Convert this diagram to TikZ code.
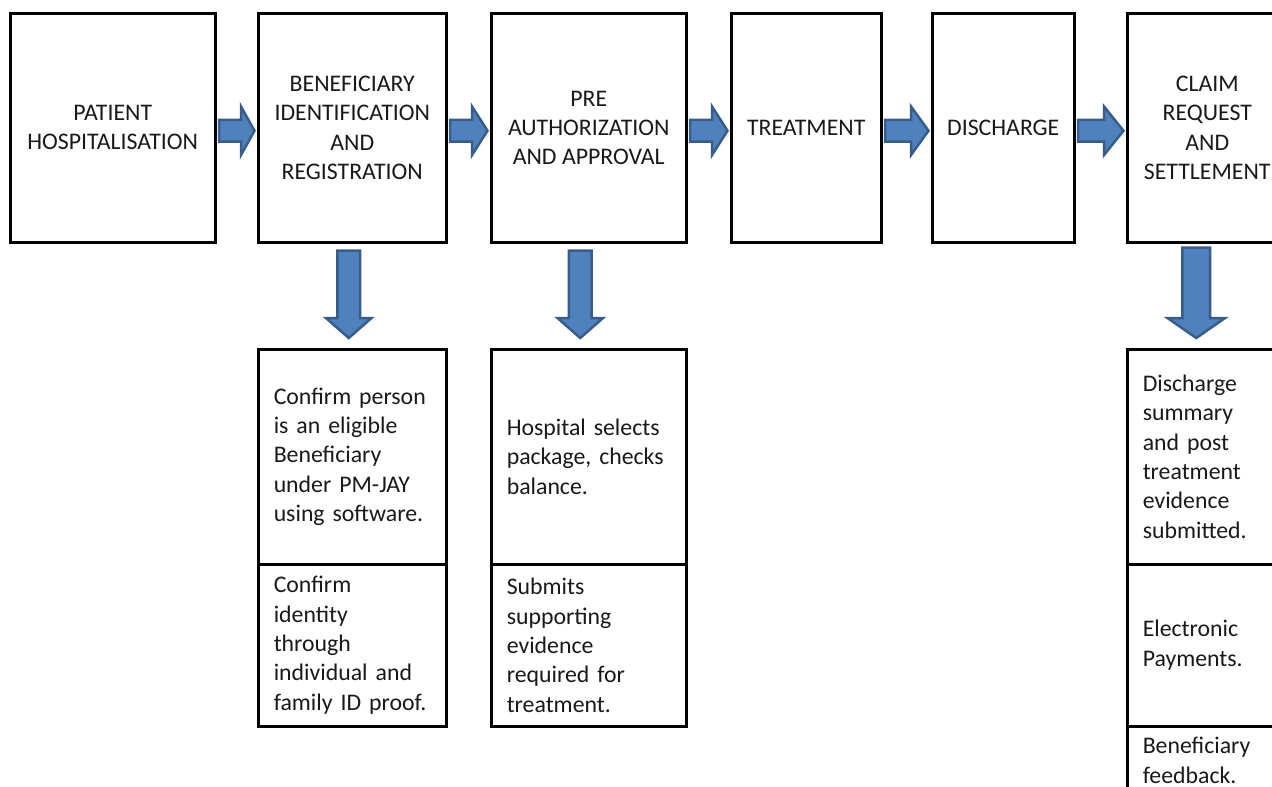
\documentclass[tikz,border=0pt]{standalone}
\usepackage{fontspec}
\setmainfont{Carlito}
\usetikzlibrary{calc}
\definecolor{arrowfill}{HTML}{4F81BD}
\definecolor{arrowedge}{HTML}{385D8A}
% horizontal block arrow: from node, to node, head length
\newcommand\harrow[3]{%
  \draw[barrow] ([shift={(2.5,-7.8)}]#1.east) -- ([shift={(-#3,-7.8)}]#2.west)
    -- ([shift={(-#3,-21.3)}]#2.west) -- ([shift={(-2.5,3)}]#2.west)
    -- ([shift={(-#3,27.3)}]#2.west) -- ([shift={(-#3,13.8)}]#2.west)
    -- ([shift={(2.5,13.8)}]#1.east) -- cycle;}
% vertical block arrow: upper node, lower node, x offset, shaft half, head half, top gap
\newcommand\varrow[6]{%
  \draw[barrow] ([shift={(#3-#4,#6)}]#1.south) -- ([shift={(#3-#4,-30)}]#2.north)
    -- ([shift={(#3-#5,-30)}]#2.north) -- ([shift={(#3,-10)}]#2.north)
    -- ([shift={(#3+#5,-30)}]#2.north) -- ([shift={(#3+#4,-30)}]#2.north)
    -- ([shift={(#3+#4,#6)}]#1.south) -- cycle;}
\begin{document}
\begin{tikzpicture}[x=1pt,y=-1pt,
  box/.style={draw,line width=2.5pt,rectangle,inner sep=0pt,anchor=north west,
    font=\fontsize{23.8}{29.3}\selectfont,align=center,text=black!90},
  lbox/.style={box,align=left,inner xsep=15.5pt},
  barrow/.style={draw=arrowedge,fill=arrowfill,line width=2.5pt,line join=miter}]
\useasboundingbox (0,0) rectangle (1272,787);
% top row
\node[box,minimum width=205pt,minimum height=229pt] (b1) at (9,12) {PATIENT\\HOSPITALISATION};
\node[box,minimum width=188pt,minimum height=229pt] (b2) at (257,12) {BENEFICIARY\\IDENTIFICATION\\AND\\REGISTRATION};
\node[box,minimum width=195pt,minimum height=229pt] (b3) at (490,12) {PRE\\AUTHORIZATION\\AND APPROVAL};
\node[box,minimum width=150pt,minimum height=229pt] (b4) at (730,12) {TREATMENT};
\node[box,minimum width=142pt,minimum height=229pt] (b5) at (931,12) {DISCHARGE};
\node[box,minimum width=160pt,minimum height=229pt] (b6) at (1126,12) {CLAIM\\REQUEST\\AND\\SETTLEMENT};
% lower boxes
\node[lbox,text width=157pt,minimum height=215pt] (l2a) at (257,348) {Confirm person\\is an eligible\\Beneficiary\\under PM-JAY\\using software.};
\node[lbox,text width=157pt,minimum height=162pt] (l2b) at (257,563) {Confirm\\identity\\through\\individual and\\family ID proof.};
\node[lbox,text width=164pt,minimum height=215pt] (l3a) at (490,348) {Hospital selects\\package, checks\\balance.};
\node[lbox,text width=164pt,minimum height=162pt] (l3b) at (490,563) {Submits\\supporting\\evidence\\required for\\treatment.};
\node[lbox,text width=129pt,minimum height=215pt] (l6a) at (1126,348) {Discharge\\summary\\and post\\treatment\\evidence\\submitted.};
\node[lbox,text width=129pt,minimum height=162pt] (l6b) at (1126,563) {Electronic\\Payments.};
\node[lbox,text width=129pt,minimum height=68pt] (l6c) at (1126,725) {Beneficiary\\feedback.};
% horizontal arrows
\harrow{b1}{b2}{16}
\harrow{b2}{b3}{18}
\harrow{b3}{b4}{18}
\harrow{b4}{b5}{20}
\harrow{b5}{b6}{22}
% vertical arrows
\varrow{b2}{l2a}{-3.5}{11.3}{22.8}{7.2}
\varrow{b3}{l3a}{-8.5}{11.3}{22.8}{7.2}
\varrow{b6}{l6a}{-11}{13.8}{28.8}{4.2}
\end{tikzpicture}
\end{document}
